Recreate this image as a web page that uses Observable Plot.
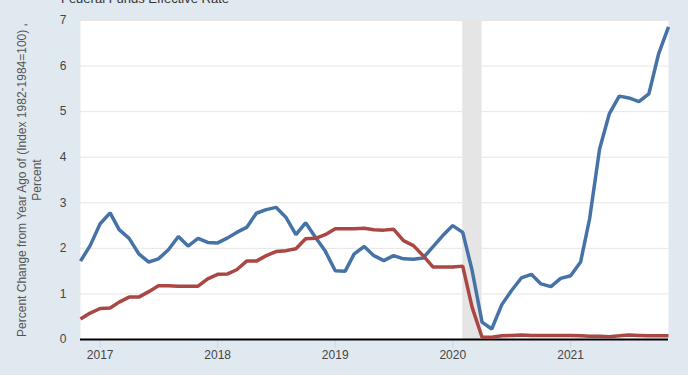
<!DOCTYPE html>
<html>
<head>
<meta charset="utf-8">
<script src="https://cdn.jsdelivr.net/npm/d3@7"></script>
<script src="https://cdn.jsdelivr.net/npm/@observablehq/plot@0.6"></script>
<style>
  html, body { margin: 0; padding: 0; background: #e1e9f0; }
  #chart { width: 688px; height: 375px; overflow: hidden; }
</style>
</head>
<body>
<div id="chart"></div>
<script>
// Monthly observations, Nov 2016 .. Nov 2021
const firstMonth = "2016-11-01";
const lastMonth = "2021-11-01";

// CPI, percent change from year ago (blue)
const cpiChange = [
  1.72, 2.06,
  2.54, 2.78, 2.41, 2.22, 1.88, 1.70, 1.77, 1.97, 2.26, 2.05, 2.22, 2.13,
  2.12, 2.23, 2.35, 2.46, 2.77, 2.85, 2.90, 2.68, 2.30, 2.56, 2.24, 1.94,
  1.51, 1.50, 1.88, 2.04, 1.84, 1.73, 1.84, 1.77, 1.76, 1.79, 2.04, 2.28,
  2.50, 2.35, 1.52, 0.38, 0.23, 0.76, 1.07, 1.35, 1.43, 1.22, 1.16, 1.34,
  1.40, 1.70, 2.65, 4.18, 4.95, 5.34, 5.30, 5.22, 5.39, 6.26, 6.86
];

// Federal Funds Effective Rate (red)
const fedFunds = [
  0.45, 0.58,
  0.68, 0.69, 0.82, 0.93, 0.93, 1.05, 1.18, 1.18, 1.17, 1.17, 1.17, 1.33,
  1.43, 1.44, 1.53, 1.72, 1.72, 1.84, 1.93, 1.95, 1.99, 2.21, 2.22, 2.30,
  2.43, 2.43, 2.43, 2.44, 2.41, 2.40, 2.42, 2.17, 2.06, 1.84, 1.59, 1.59,
  1.59, 1.61, 0.71, 0.05, 0.05, 0.08, 0.09, 0.10, 0.09, 0.09, 0.09, 0.09,
  0.09, 0.08, 0.07, 0.07, 0.06, 0.08, 0.10, 0.09, 0.08, 0.08, 0.08
];

// Recession shading
const recessionStart = ["2020-02-01"];
const recessionEnd = ["2020-04-01"];

// Tick labels
const yTicks = [0, 1, 2, 3, 4, 5, 6, 7];
const xTickYears = ["2017", "2018", "2019", "2020", "2021"];

const yLabelLine1 = "Percent Change from Year Ago of (Index 1982-1984=100) ,";
const yLabelLine2 = "Percent";
const topTitle = "Federal Funds Effective Rate";

// Build tables
const months = d3.utcMonth.range(new Date(firstMonth), d3.utcMonth.offset(new Date(lastMonth), 1));
const cpiData = months.map((d, i) => ({date: d, value: cpiChange[i]}));
const ffData = months.map((d, i) => ({date: d, value: fedFunds[i]}));
const recessions = recessionStart.map((s, i) => ({start: new Date(s), end: new Date(recessionEnd[i])}));
const xTicks = xTickYears.map(y => new Date(y + "-01-01"));

const plot = Plot.plot({
  width: 688,
  height: 375,
  marginLeft: 80,
  marginRight: 20,
  marginTop: 20,
  marginBottom: 36,
  style: {
    background: "transparent",
    fontFamily: "'Liberation Sans', Arial, sans-serif",
    fontSize: "12px",
    color: "#444"
  },
  x: {
    type: "utc",
    domain: [new Date(firstMonth), new Date(lastMonth)],
    ticks: xTicks,
    tickFormat: d3.utcFormat("%Y"),
    tickSize: 9,
    tickPadding: 2,
    label: null
  },
  y: {
    domain: [0, 7],
    ticks: yTicks,
    tickFormat: d => String(d),
    tickSize: 0,
    tickPadding: 14,
    label: null
  },
  marks: [
    Plot.frame({fill: "white", stroke: null}),
    Plot.ruleY(yTicks.filter(v => v > 0), {stroke: "#e6e6e6", strokeWidth: 1}),
    Plot.rect(recessions, {x1: "start", x2: "end", fill: "#e5e5e5"}),
    Plot.ruleY([0], {stroke: "#000", strokeWidth: 2}),
    Plot.line(cpiData, {x: "date", y: "value", stroke: "#4572a7", strokeWidth: 3.5, strokeLinejoin: "miter", strokeLinecap: "butt"}),
    Plot.line(ffData, {x: "date", y: "value", stroke: "#aa4643", strokeWidth: 3.5, strokeLinejoin: "miter", strokeLinecap: "butt"})
  ]
});

const svg = d3.select(plot);
svg.style("overflow", "visible");
// x axis tick lines: light
svg.selectAll('g[aria-label="x-axis tick"] path').attr("stroke", "#ccd6eb").attr("stroke-opacity", 1);
svg.selectAll('g[aria-label="x-axis tick"]').attr("stroke", "#ccd6eb");

// y axis title (two lines)
const yl = svg.append("g")
  .attr("fill", "#555")
  .attr("font-size", "12px")
  .attr("text-anchor", "middle");
yl.append("text")
  .attr("transform", "translate(22,180) rotate(-90)")
  .attr("dy", "0.35em")
  .text(yLabelLine1);
yl.append("text")
  .attr("transform", "translate(37,180) rotate(-90)")
  .attr("dy", "0.35em")
  .text(yLabelLine2);

// partially visible title at top (cut off by the page edge, as in the reference)
svg.append("text")
  .attr("x", 145)
  .attr("y", 3)
  .attr("fill", "#333")
  .attr("font-size", "13px")
  .text(topTitle);

document.getElementById("chart").appendChild(plot);
</script>
</body>
</html>
